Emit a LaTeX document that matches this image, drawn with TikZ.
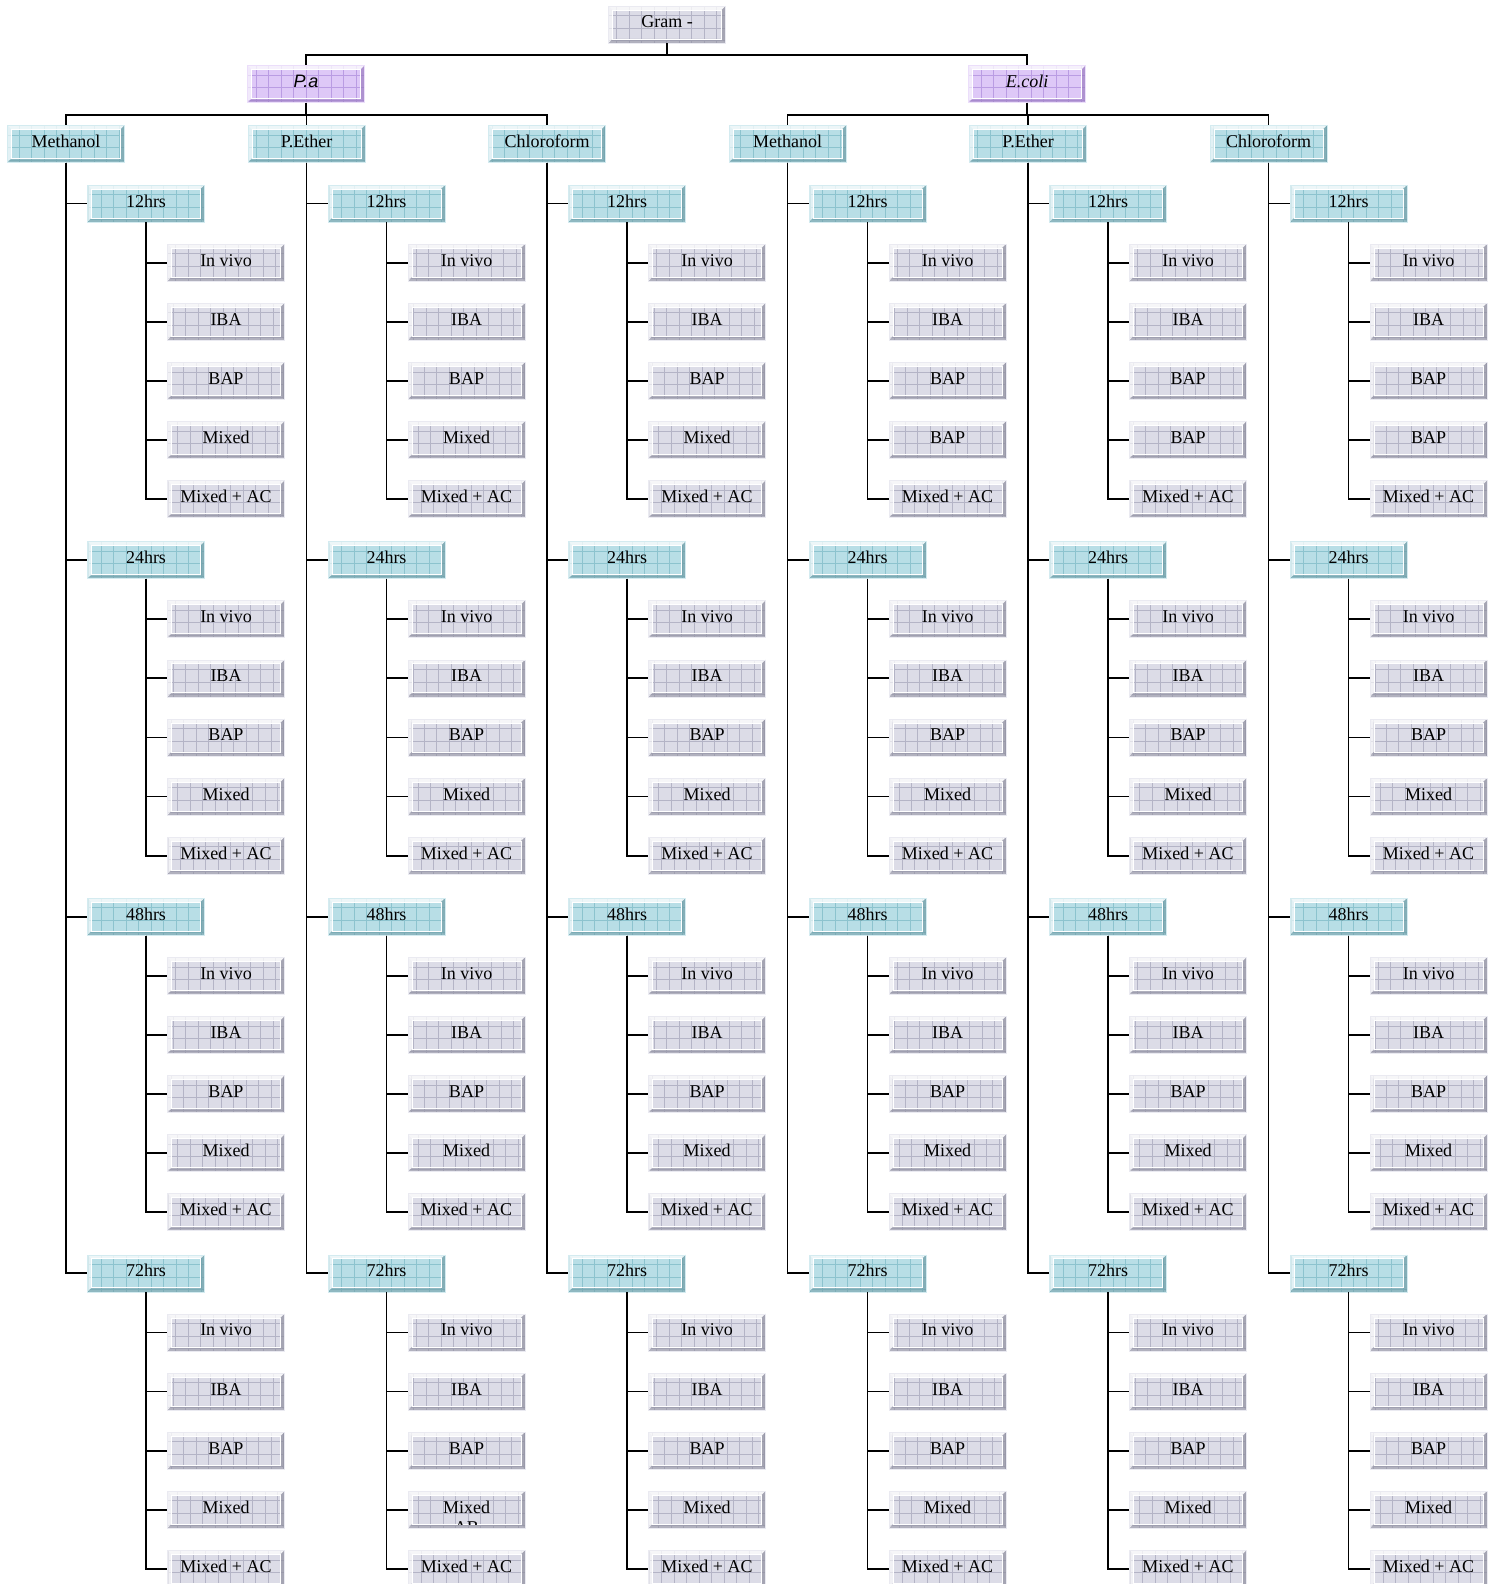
\documentclass[tikz,border=0pt]{standalone}
\usepackage{fontspec}
\setmainfont{Liberation Serif}
\newfontfamily\sansfam{Liberation Sans}
\definecolor{tealfill}{HTML}{B8DEE6}
\definecolor{tealgrid}{HTML}{8CC3CE}
\definecolor{tealedge}{HTML}{6E9AA4}
\definecolor{greyfill}{HTML}{DCDCE7}
\definecolor{greygrid}{HTML}{B4B4C6}
\definecolor{greyedge}{HTML}{8E8E9E}
\definecolor{lilacfill}{HTML}{DEC8F7}
\definecolor{lilacgrid}{HTML}{BA9CE3}
\definecolor{lilacedge}{HTML}{9A7CC0}
\tikzset{
  box/.style={minimum width=117pt, minimum height=37pt, inner sep=0pt,
    text height=12.5pt, text depth=5.5pt,
    font=\fontsize{18}{21}\selectfont, fill=#1fill, draw=#1fill!60!white, line width=0.6pt,
    path picture={
      \draw[#1grid, line width=0.45pt, step=12.5pt]
        (path picture bounding box.south west) grid (path picture bounding box.north east);
      % bevelled frame: light top and left, dark bottom and right
      \fill[white, opacity=0.75]
        (path picture bounding box.north west) -- (path picture bounding box.north east)
        -- ([shift={(-4pt,-4pt)}]path picture bounding box.north east)
        -- ([shift={(4pt,-4pt)}]path picture bounding box.north west) -- cycle;
      \fill[white, opacity=0.6]
        (path picture bounding box.north west) -- (path picture bounding box.south west)
        -- ([shift={(4pt,4pt)}]path picture bounding box.south west)
        -- ([shift={(4pt,-4pt)}]path picture bounding box.north west) -- cycle;
      \fill[#1edge, opacity=0.55]
        (path picture bounding box.south west) -- (path picture bounding box.south east)
        -- ([shift={(-4pt,4pt)}]path picture bounding box.south east)
        -- ([shift={(4pt,4pt)}]path picture bounding box.south west) -- cycle;
      \fill[#1edge, opacity=0.7]
        (path picture bounding box.south east) -- (path picture bounding box.north east)
        -- ([shift={(-4pt,-4pt)}]path picture bounding box.north east)
        -- ([shift={(-4pt,4pt)}]path picture bounding box.south east) -- cycle;
      \draw[white, line width=0.8pt]
        ([shift={(4pt,4pt)}]path picture bounding box.south west) rectangle
        ([shift={(-4pt,-4pt)}]path picture bounding box.north east);
    }},
  conn/.style={line width=1.8pt, black},
}
\begin{document}
\begin{tikzpicture}[x=1pt,y=-1pt]
\useasboundingbox (0,0) rectangle (1494,1584);
% top of the tree
\node[box=grey] (gram) at (667,24.5) {Gram -};
\node[box=lilac, font=\fontsize{18}{21}\sansfam\itshape] (pa) at (306,84) {P.a};
\node[box=lilac, font=\fontsize{18}{21}\selectfont\itshape] (ec) at (1027,84) {E.coli};
\coordinate (gbar) at (0,55);
\coordinate (sbar) at (0,115);
\draw[conn] (gram.south) -- (gram.south |- gbar) -| (pa.north);
\draw[conn] (gram.south) -- (gram.south |- gbar) -| (ec.north);
% solvents, times and treatments
\foreach \name [count=\i from 0] in {Methanol,P.Ether,Chloroform,Methanol,P.Ether,Chloroform} {
  \pgfmathsetmacro\cx{66+240.5*\i}
  \node[box=teal] (c\i) at (\cx,143.8) {\name};
  \foreach \hr [count=\j from 0] in {12hrs,24hrs,48hrs,72hrs} {
    \pgfmathsetmacro\hy{203.5+356.6*\j}
    \node[box=teal] (h\i-\j) at (\cx+80,\hy) {\hr};
    \draw[conn] (c\i.south) |- (h\i-\j.west);
    \foreach \lf [count=\k] in {In vivo,IBA,BAP,Mixed,Mixed + AC} {
      \def\lbl{\lf}
      \ifnum\j=0 \ifnum\i>2 \ifnum\k=4 \def\lbl{BAP}\fi\fi\fi
      \node[box=grey] (l\i-\j-\k) at (\cx+160,\hy+59.1*\k) {\lbl};
      \draw[conn] (h\i-\j.south) |- (l\i-\j-\k.west);
    }
  }
}
\foreach \i in {0,1,2} \draw[conn] (pa.south) -- (pa.south |- sbar) -| (c\i.north);
\foreach \i in {3,4,5} \draw[conn] (ec.south) -- (ec.south |- sbar) -| (c\i.north);
% second line of an overfull label, cut off by its box
\begin{scope}
  \clip ([shift={(2pt,4pt)}]l1-3-4.south west) rectangle ([shift={(-2pt,-2pt)}]l1-3-4.north east);
  \node[font=\fontsize{18}{21}\selectfont, yshift=-18pt] (ab) at (l1-3-4.center) {AB};
\end{scope}
\end{tikzpicture}
\end{document}
